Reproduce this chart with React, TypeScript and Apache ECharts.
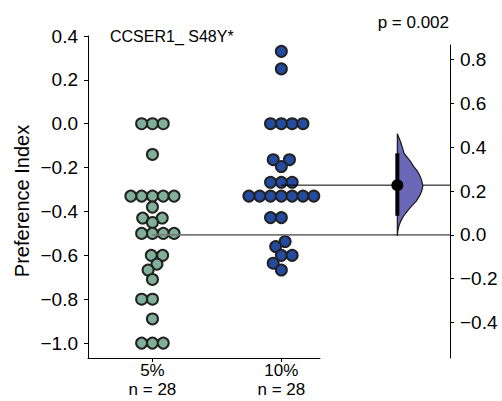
import React, { useEffect, useRef } from 'react';
import * as echarts from 'echarts';

// ---------------- data ----------------
const groups = ['5%', '10%'];
const groupN = ['n = 28', 'n = 28'];
const values5 = [
  0, 0, 0, -0.14, -0.33, -0.33, -0.33, -0.33, -0.33, -0.38, -0.43, -0.43, -0.45,
  -0.5, -0.5, -0.5, -0.5, -0.6, -0.6, -0.64, -0.667, -0.71, -0.8, -0.8, -0.89, -1, -1, -1,
];
const values10 = [
  0.33, 0.25, 0, 0, 0, 0, -0.164, -0.164, -0.195, -0.267, -0.267, -0.267,
  -0.33, -0.33, -0.33, -0.33, -0.33, -0.33, -0.33, -0.33,
  -0.428, -0.428, -0.537, -0.56, -0.6, -0.6, -0.636, -0.667,
];
const ciBounds = [0.087, 0.372];
const violinVals = [0.461, 0.42, 0.398, 0.37, 0.337, 0.31, 0.292, 0.265, 0.246, 0.223, 0.201, 0.18, 0.155, 0.13, 0.109, 0.085, 0.064, 0.04, 0.018, -0.005];
const violinDens = [0, 0.14, 0.2, 0.27, 0.5, 0.65, 0.78, 0.9, 0.96, 1, 0.96, 0.88, 0.75, 0.55, 0.4, 0.24, 0.14, 0.06, 0.02, 0];
const leftTicks = [-1.0, -0.8, -0.6, -0.4, -0.2, 0.0, 0.2, 0.4];
const rightTicks = [-0.4, -0.2, 0.0, 0.2, 0.4, 0.6, 0.8];
const titleText = 'CCSER1_ S48Y*';
const pText = 'p = 0.002';
const yName = 'Preference Index';

// ---------------- layout ----------------
const W = 502, H = 401;
const LEFT = 88, SWARM_RIGHT = 320, AXIS_RIGHT = 450;
const TOP_L = 36, TOP_R = 45, BOTTOM = 358;
const Y_MIN = -1.068, Y_MAX = 0.4;
const X_MIN = -0.5, X_MAX0 = 1.3;
const EFFECT_X = 1.9;
const VIOLIN_W_PX = 25.5;
const DOT_D = 10.3;
const FONT = 'Liberation Sans, Arial, Helvetica, sans-serif';
const TICK_FS = 19;

const pxPerX = (SWARM_RIGHT - LEFT) / (X_MAX0 - X_MIN);
const X_MAX1 = X_MIN + (AXIS_RIGHT - LEFT) / pxPerX;
const pxPerY = (BOTTOM - TOP_L) / (Y_MAX - Y_MIN);

const mean = (a: number[]) => a.reduce((s, v) => s + v, 0) / a.length;
const mean5 = mean(values5);
const mean10 = mean(values10);
const diff = mean10 - mean5;
const R_MIN = Y_MIN - mean5;
const R_MAX = Y_MAX - (TOP_R - TOP_L) / pxPerY - mean5;

// seaborn-like beeswarm, returns x offsets in px
function beeswarm(values: number[], d: number): number[] {
  const idx = values.map((_, i) => i).sort((a, b) => values[a] - values[b]);
  const placed: { x: number; y: number }[] = [];
  const out = new Array(values.length).fill(0);
  for (const i of idx) {
    const y = values[i] * pxPerY;
    const neighbors: { x: number; y: number }[] = [];
    for (let k = placed.length - 1; k >= 0; k--) {
      if (y - placed[k].y < d) neighbors.push(placed[k]);
      else break;
    }
    const cands: number[] = [0];
    let leftFirst = true;
    for (const n of neighbors) {
      const dy = y - n.y;
      const dx = Math.sqrt(Math.max(d * d - dy * dy, 0)) * 1.05;
      if (leftFirst) cands.push(n.x - dx, n.x + dx);
      else cands.push(n.x + dx, n.x - dx);
      leftFirst = !leftFirst;
    }
    const order = cands
      .map((c, k) => ({ c, k }))
      .sort((a, b) => Math.abs(a.c) - Math.abs(b.c) || a.k - b.k);
    let chosen = 0;
    for (const { c } of order) {
      if (neighbors.every((n) => (n.x - c) ** 2 + (n.y - y) ** 2 >= d * d - 1e-6)) {
        chosen = c;
        break;
      }
    }
    placed.push({ x: chosen, y });
    out[i] = chosen;
  }
  return out;
}

const fmt = (v: number) => (v < -1e-9 ? '\u2212' : '') + Math.abs(v).toFixed(1);

export default function App() {
  const ref = useRef<HTMLDivElement>(null);
  useEffect(() => {
    if (!ref.current) return;
    const chart = echarts.init(ref.current, undefined, { renderer: 'svg' });
    const off5 = beeswarm(values5, DOT_D);
    const off10 = beeswarm(values10, DOT_D);
    const dotStyle = (c: string) => ({ color: c, borderColor: '#222', borderWidth: 2, opacity: 1 });
    const axisLine = { show: true, onZero: false, lineStyle: { color: '#000', width: 1 } };
    chart.setOption({
      animation: false,
      textStyle: { fontFamily: FONT },
      grid: [
        { left: LEFT, top: TOP_L, width: SWARM_RIGHT - LEFT, height: BOTTOM - TOP_L, outerBoundsMode: 'none', containLabel: false },
        { left: LEFT, top: TOP_R, width: AXIS_RIGHT - LEFT, height: BOTTOM - TOP_R, outerBoundsMode: 'none', containLabel: false },
      ],
      xAxis: [
        {
          type: 'value', gridIndex: 0, min: X_MIN, max: X_MAX0,
          axisLine, splitLine: { show: false },
          axisTick: { show: true, length: 4, customValues: [0, 1], lineStyle: { color: '#000' } },
          axisLabel: {
            customValues: [0, 1],
            formatter: (v: number) => `${groups[Math.round(v)]}\n${groupN[Math.round(v)]}`,
            fontSize: 17, lineHeight: 19, color: '#000', margin: 3, fontFamily: FONT,
          },
        },
        {
          type: 'value', gridIndex: 1, min: X_MIN, max: X_MAX1,
          axisLine: { show: false }, axisTick: { show: false }, axisLabel: { show: false }, splitLine: { show: false },
        },
      ],
      yAxis: [
        {
          type: 'value', gridIndex: 0, min: Y_MIN, max: Y_MAX,
          axisLine, splitLine: { show: false },
          axisTick: { show: true, length: 4, customValues: leftTicks, lineStyle: { color: '#000' } },
          axisLabel: { customValues: leftTicks, formatter: fmt, fontSize: TICK_FS, color: '#000', margin: 10, fontFamily: FONT },
        },
        {
          type: 'value', gridIndex: 1, position: 'right', min: R_MIN, max: R_MAX,
          axisLine, splitLine: { show: false },
          axisTick: { show: true, length: 4, customValues: rightTicks, lineStyle: { color: '#000' } },
          axisLabel: { customValues: rightTicks, formatter: fmt, fontSize: TICK_FS, color: '#000', margin: 10, fontFamily: FONT },
        },
      ],
      series: [
        {
          type: 'scatter', xAxisIndex: 0, yAxisIndex: 0, symbolSize: 11, z: 2,
          itemStyle: dotStyle('#80b09a'),
          data: values5.map((v, i) => [0 + off5[i] / pxPerX, v]),
        },
        {
          type: 'scatter', xAxisIndex: 0, yAxisIndex: 0, symbolSize: 11, z: 2,
          itemStyle: dotStyle('#234b9f'),
          data: values10.map((v, i) => [1 + off10[i] / pxPerX, v]),
        },
        {
          type: 'line', xAxisIndex: 1, yAxisIndex: 1, symbol: 'none', z: 5,
          lineStyle: { color: '#777', width: 1.6 },
          data: [[0, 0], [X_MAX1, 0]],
        },
        {
          type: 'line', xAxisIndex: 1, yAxisIndex: 1, symbol: 'none', z: 5,
          lineStyle: { color: '#000', width: 1 },
          data: [[1, diff], [X_MAX1, diff]],
        },
        {
          type: 'custom', xAxisIndex: 1, yAxisIndex: 1, z: 6,
          data: [[EFFECT_X, diff]],
          renderItem: (_p: any, api: any) => {
            const wData = VIOLIN_W_PX / pxPerX;
            const pts: number[][] = violinVals.map((v, i) => api.coord([EFFECT_X + violinDens[i] * wData, v]));
            pts.push(api.coord([EFFECT_X, violinVals[violinVals.length - 1]]));
            pts.push(api.coord([EFFECT_X, violinVals[0]]));
            return {
              type: 'polygon',
              shape: { points: pts },
              style: { fill: '#6c68b8', stroke: '#1a1a1a', lineWidth: 1.2 },
            };
          },
        },
        {
          type: 'line', xAxisIndex: 1, yAxisIndex: 1, symbol: 'none', z: 7,
          lineStyle: { color: '#000', width: 4 },
          data: [[EFFECT_X, ciBounds[0]], [EFFECT_X, ciBounds[1]]],
        },
        {
          type: 'scatter', xAxisIndex: 1, yAxisIndex: 1, symbolSize: 12, z: 8,
          itemStyle: { color: '#000', opacity: 1 },
          data: [[EFFECT_X, diff]],
        },
      ],
      graphic: [
        {
          type: 'text', x: 110, y: 36,
          style: { text: titleText, fontSize: 16, fontFamily: FONT, fill: '#000', textAlign: 'left', textVerticalAlign: 'middle' },
        },
        {
          type: 'text', x: 449, y: 22,
          style: { text: pText, fontSize: 17, fontFamily: FONT, fill: '#000', textAlign: 'right', textVerticalAlign: 'middle' },
        },
        {
          type: 'text', x: 22, y: 201, rotation: Math.PI / 2,
          style: { text: yName, fontSize: 20, fontFamily: FONT, fill: '#000', textAlign: 'center', textVerticalAlign: 'middle' },
        },
      ],
    });
    return () => chart.dispose();
  }, []);
  return <div ref={ref} style={{ position: 'absolute', left: 0, top: 0, width: W, height: H }} />;
}
